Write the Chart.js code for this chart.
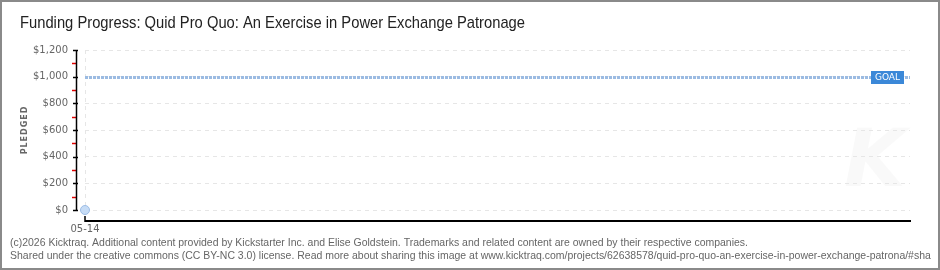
<!DOCTYPE html>
<html><head><meta charset="utf-8">
<script src="https://cdn.jsdelivr.net/npm/chart.js@4/dist/chart.umd.min.js"></script>
<style>html,body{margin:0;padding:0;background:#fff}canvas{display:block}</style>
</head><body>
<canvas id="c" width="940" height="270"></canvas>
<script>
const titleText = "Funding Progress: Quid Pro Quo: An Exercise in Power Exchange Patronage";
const dates = ["05-14"];
const pledged = [0];
const goal = 1000;
const yTicks = [0, 200, 400, 600, 800, 1000, 1200];
const footer1 = "(c)2026 Kicktraq. Additional content provided by Kickstarter Inc. and Elise Goldstein. Trademarks and related content are owned by their respective companies.";
const footer2 = "Shared under the creative commons (CC BY-NC 3.0) license. Read more about sharing this image at www.kicktraq.com/projects/62638578/quid-pro-quo-an-exercise-in-power-exchange-patrona/#sha";

function fitText(ctx, text, x, y, targetW) {
  const w = ctx.measureText(text).width;
  const sx = targetW / w;
  ctx.save();
  ctx.translate(x, y);
  ctx.scale(sx, 1);
  ctx.fillText(text, 0, 0);
  ctx.restore();
  return sx;
}

const deco = {
  id: 'deco',
  beforeDraw(chart) {
    const ctx = chart.ctx;
    ctx.save();
    ctx.fillStyle = '#fff';
    ctx.fillRect(0, 0, chart.width, chart.height);
    ctx.fillStyle = 'rgba(0,0,0,0.022)';
    ctx.font = 'italic bold 80px "DejaVu Sans"';
    ctx.textAlign = 'center';
    ctx.textBaseline = 'middle';
    ctx.fillText('K', 875, 165);
    ctx.restore();
  },
  afterDraw(chart) {
    const ctx = chart.ctx;
    const ys = chart.scales.y, xs = chart.scales.x;
    const ca = chart.chartArea;
    ctx.save();
    // goal line
    const gy = Math.round(ys.getPixelForValue(goal)) + 0.5;
    ctx.strokeStyle = '#9bbbe2';
    ctx.lineWidth = 3;
    ctx.setLineDash([3, 1]);
    ctx.beginPath(); ctx.moveTo(ca.left, gy); ctx.lineTo(ca.right, gy); ctx.stroke();
    ctx.setLineDash([]);
    // goal label
    ctx.fillStyle = '#3b88d8';
    ctx.fillRect(871, gy - 6.5, 33, 13);
    ctx.fillStyle = '#fff';
    ctx.font = '9px "DejaVu Sans"';
    ctx.textAlign = 'center';
    ctx.textBaseline = 'middle';
    ctx.fillText('GOAL', 887.5, gy + 0.5);
    // y axis line
    const ax = 76.5;
    ctx.lineWidth = 1.5;
    for (const v of yTicks) {
      if (v < 1200) {
        const my = Math.round(ys.getPixelForValue(v + 100)) + 0.5;
        ctx.strokeStyle = '#e00000';
        ctx.beginPath(); ctx.moveTo(72, my); ctx.lineTo(76, my); ctx.stroke();
      }
    }
    ctx.strokeStyle = '#000';
    ctx.beginPath(); ctx.moveTo(ax, ys.getPixelForValue(1200)); ctx.lineTo(ax, ys.getPixelForValue(0)); ctx.stroke();
    for (const v of yTicks) {
      const py = Math.round(ys.getPixelForValue(v)) + 0.5;
      ctx.beginPath(); ctx.moveTo(73, py); ctx.lineTo(78, py); ctx.stroke();
    }
    // x axis line
    ctx.lineWidth = 2;
    ctx.beginPath(); ctx.moveTo(ca.left, 221); ctx.lineTo(911, 221); ctx.stroke();
    ctx.lineWidth = 1.5;
    const tx = xs.getPixelForValue(0);
    ctx.beginPath(); ctx.moveTo(tx, 216); ctx.lineTo(tx, 222); ctx.stroke();
    // y title
    ctx.save();
    ctx.translate(25, 130);
    ctx.rotate(-Math.PI / 2);
    ctx.fillStyle = '#666';
    ctx.font = 'bold 8px "DejaVu Sans"';
    ctx.textAlign = 'center';
    ctx.textBaseline = 'middle';
    ctx.letterSpacing = '1px';
    ctx.fillText('PLEDGED', 0, 0);
    ctx.restore();
    // title
    ctx.fillStyle = '#222';
    ctx.font = '17px "Liberation Sans", "DejaVu Sans"';
    ctx.textAlign = 'left';
    ctx.textBaseline = 'middle';
    fitText(ctx, titleText, 20, 23, 505);
    // footer
    ctx.fillStyle = '#666';
    ctx.font = '11px "Liberation Sans", "DejaVu Sans"';
    const sx = fitText(ctx, footer1, 10, 243, 738);
    ctx.save();
    ctx.translate(10, 255.5);
    ctx.scale(sx, 1);
    ctx.fillText(footer2, 0, 0);
    ctx.restore();
    // border
    ctx.strokeStyle = '#8a8a8a';
    ctx.lineWidth = 2;
    ctx.strokeRect(1, 1, 938, 268);
    ctx.restore();
  }
};

new Chart(document.getElementById('c'), {
  type: 'line',
  data: {
    labels: dates,
    datasets: [{
      data: pledged,
      clip: false,
      borderColor: '#5a8fd0',
      pointRadius: 4.5,
      pointBackgroundColor: '#c6dcf6',
      pointBorderColor: '#9dbde6',
      pointBorderWidth: 1,
      showLine: true
    }]
  },
  options: {
    responsive: false,
    animation: false,
    events: [],
    layout: { padding: { top: 50, right: 30, left: 0, bottom: 0 } },
    plugins: { legend: { display: false }, title: { display: false }, tooltip: { enabled: false } },
    scales: {
      x: {
        type: 'category',
        offset: false,
        afterFit(s) { s.height = 60; },
        grid: { color: '#e6e6e6', drawTicks: false, lineWidth: 1 },
        border: { display: false, dash: [4, 4] },
        ticks: { padding: 13, color: '#666', font: { family: '"DejaVu Sans"', size: 10 }, maxRotation: 0 }
      },
      y: {
        min: 0, max: 1200,
        afterFit(s) { s.width = 85; },
        afterBuildTicks(s) { s.ticks = yTicks.map(v => ({ value: v })); },
        grid: { color: '#e6e6e6', drawTicks: false, lineWidth: 1 },
        border: { display: false, dash: [4, 4] },
        ticks: {
          padding: 17, color: '#666',
          font: { family: '"DejaVu Sans"', size: 10 },
          callback: v => '$' + v.toLocaleString('en-US')
        }
      }
    }
  },
  plugins: [deco]
});
</script>
</body></html>
